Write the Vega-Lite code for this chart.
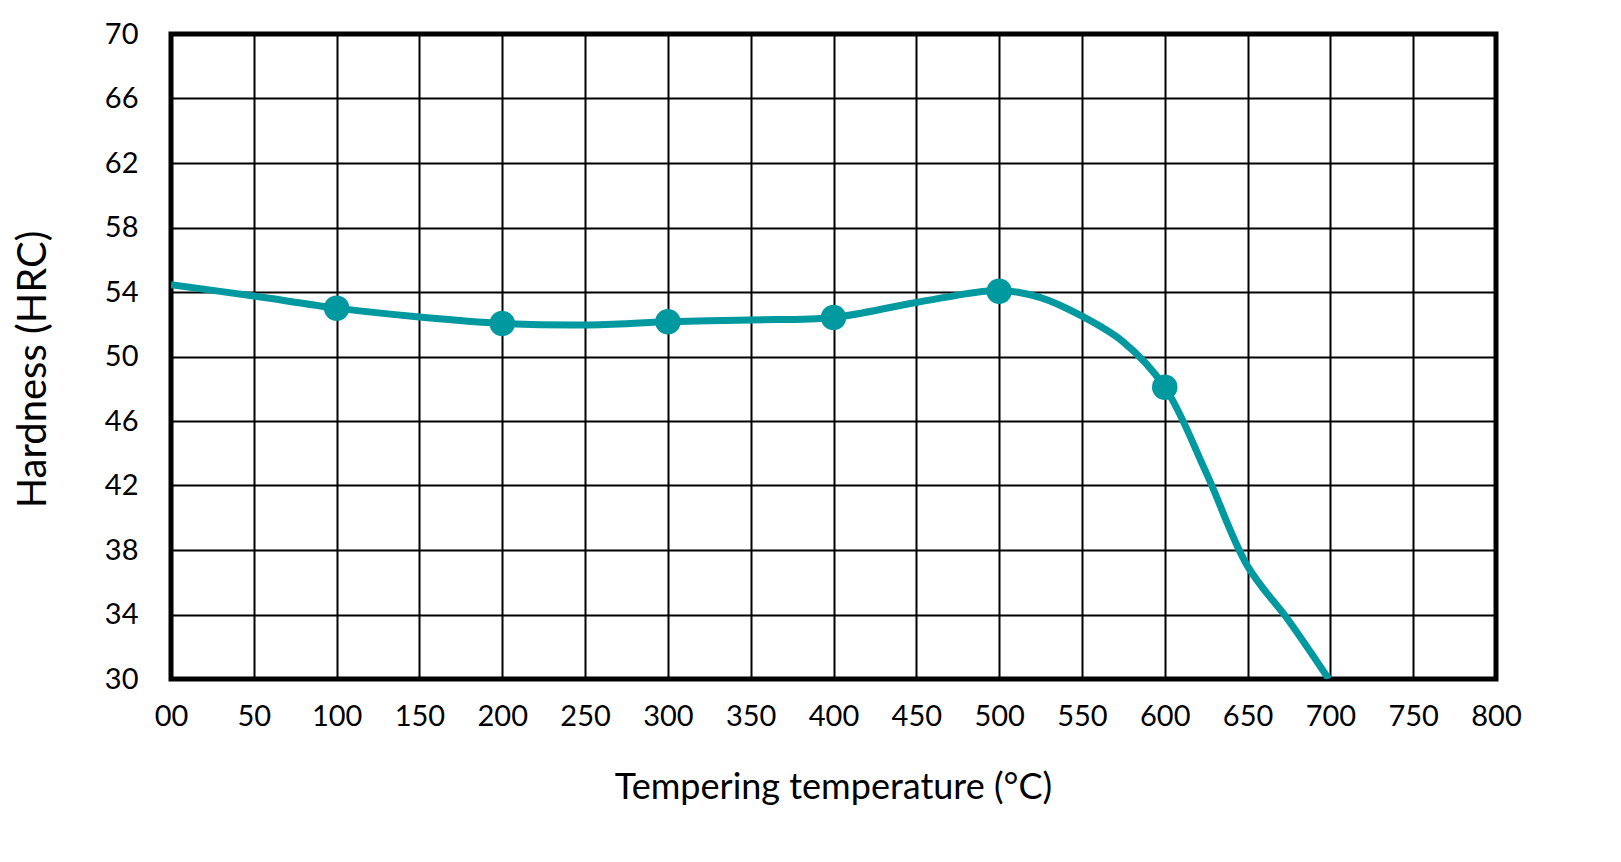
{
  "$schema": "https://vega.github.io/schema/vega-lite/v6.json",
  "autosize": "none",
  "width": 1325,
  "height": 645,
  "padding": {"left": 171, "top": 34, "right": 125, "bottom": 183},
  "background": "white",
  "datasets": {
    "curve": [
      {"temp": 0, "hrc": 54.45},
      {"temp": 50, "hrc": 53.75},
      {"temp": 100, "hrc": 53.0},
      {"temp": 150, "hrc": 52.45},
      {"temp": 200, "hrc": 52.05},
      {"temp": 250, "hrc": 51.95},
      {"temp": 300, "hrc": 52.15},
      {"temp": 350, "hrc": 52.27},
      {"temp": 400, "hrc": 52.42},
      {"temp": 450, "hrc": 53.35},
      {"temp": 500, "hrc": 54.1},
      {"temp": 525, "hrc": 53.65},
      {"temp": 550, "hrc": 52.5},
      {"temp": 575, "hrc": 50.9},
      {"temp": 600, "hrc": 48.1},
      {"temp": 625, "hrc": 42.8},
      {"temp": 650, "hrc": 37.0},
      {"temp": 675, "hrc": 33.6},
      {"temp": 699, "hrc": 30.0}
    ],
    "measured": [
      {"temp": 100, "hrc": 53.0},
      {"temp": 200, "hrc": 52.05},
      {"temp": 300, "hrc": 52.15},
      {"temp": 400, "hrc": 52.42},
      {"temp": 500, "hrc": 54.05},
      {"temp": 600, "hrc": 48.1}
    ]
  },
  "encoding": {
    "x": {
      "field": "temp",
      "type": "quantitative",
      "scale": {"domain": [0, 800], "nice": false, "zero": false},
      "axis": {
        "title": "Tempering temperature (°C)",
        "values": [0, 50, 100, 150, 200, 250, 300, 350, 400, 450, 500, 550, 600, 650, 700, 750, 800],
        "labelExpr": "datum.value == 0 ? '00' : datum.label",
        "labelBaseline": "alphabetic",
        "labelPadding": 46,
        "titleX": 662,
        "titleY": 119,
        "titleBaseline": "alphabetic"
      }
    },
    "y": {
      "field": "hrc",
      "type": "quantitative",
      "scale": {"domain": [30, 70], "nice": false, "zero": false},
      "axis": {
        "title": "Hardness (HRC)",
        "values": [30, 34, 38, 42, 46, 50, 54, 58, 62, 66, 70],
        "labelPadding": 33,
        "labelBaseline": "middle",
        "titleX": -126,
        "titleY": 335,
        "titleAngle": -90,
        "titleBaseline": "alphabetic",
        "titleAlign": "center",
        "titleFontSize": 40
      }
    }
  },
  "layer": [
    {
      "data": {"name": "curve"},
      "mark": {"type": "line", "interpolate": "catmull-rom", "color": "#00999f", "strokeWidth": 7, "clip": true}
    },
    {
      "data": {"name": "measured"},
      "mark": {"type": "point", "shape": "circle", "filled": true, "opacity": 1, "size": 650, "color": "#00999f"}
    }
  ],
  "config": {
    "view": {"stroke": "black", "strokeWidth": 5},
    "axis": {
      "domain": false,
      "ticks": false,
      "tickSize": 0,
      "grid": true,
      "gridColor": "black",
      "gridWidth": 2,
      "gridOpacity": 1,
      "labelFont": "Lato",
      "labelFontSize": 29,
      "labelColor": "black",
      "labelOverlap": false,
      "labelFlush": false,
      "titleFont": "Lato",
      "titleFontSize": 36,
      "titleFontWeight": "normal",
      "titleColor": "black"
    }
  }
}
